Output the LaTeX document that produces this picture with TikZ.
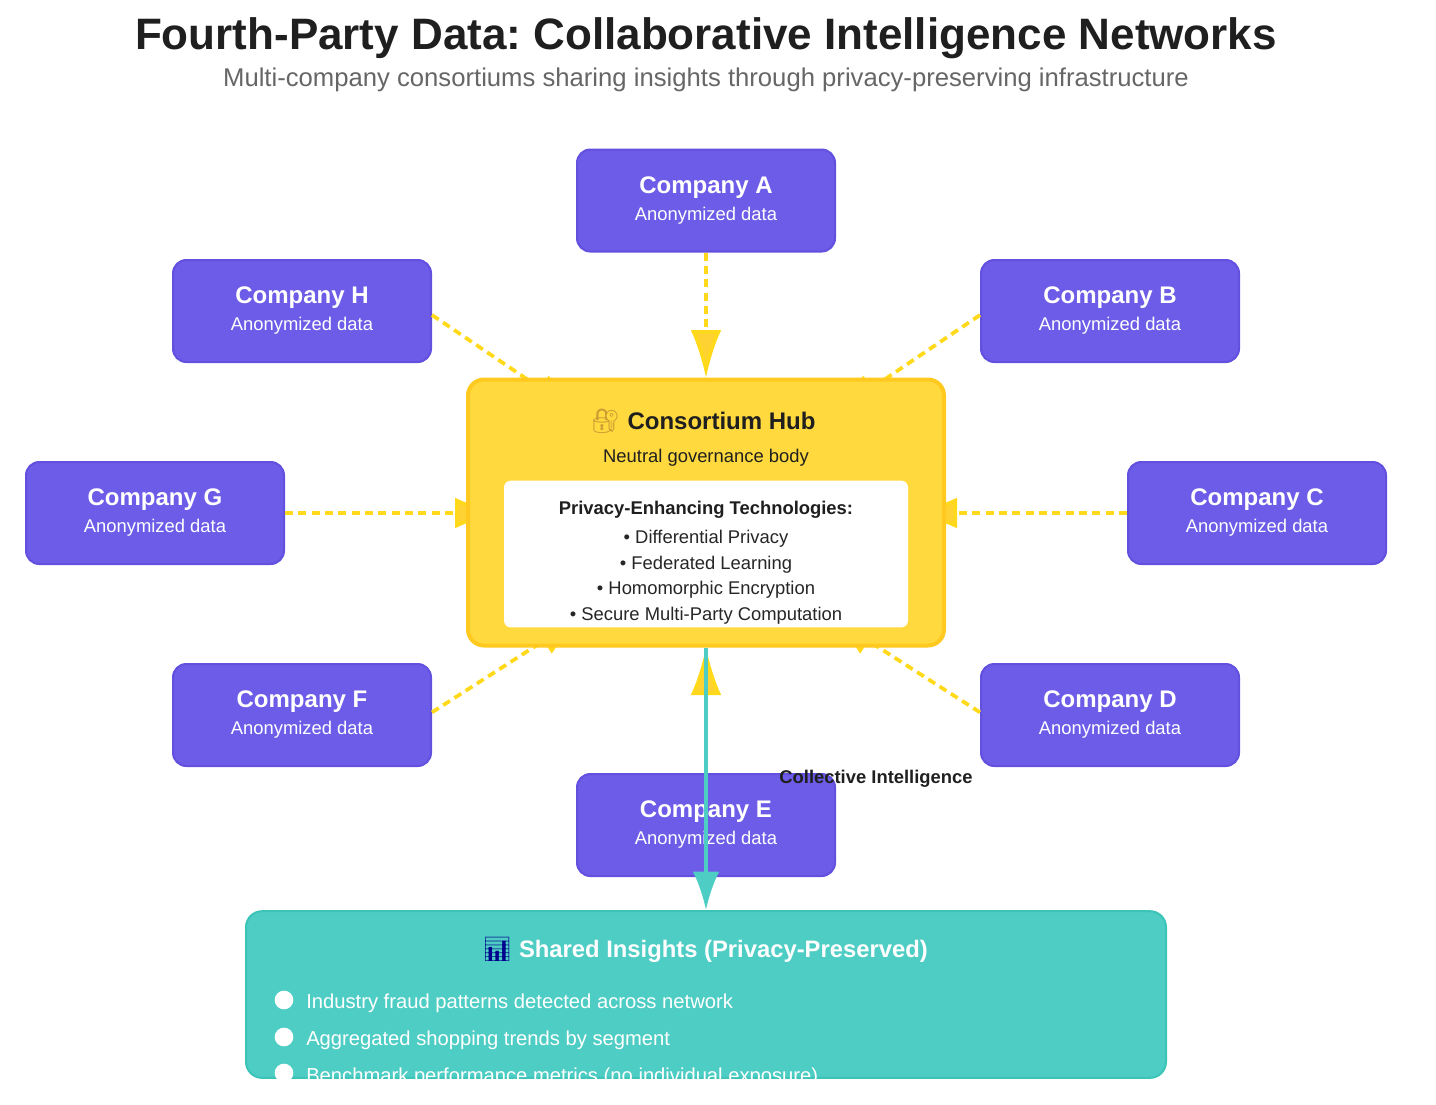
\documentclass[tikz,border=0pt]{standalone}
\usepackage{fontspec}
\setmainfont{Liberation Sans}
\newfontfamily\emojifont{Noto Emoji}
\usepackage{tikz}
\usetikzlibrary{arrows.meta,positioning,calc}
\definecolor{companyfill}{HTML}{6C5CE7}
\definecolor{companyedge}{HTML}{6250DE}
\definecolor{hubfill}{HTML}{FFD93D}
\definecolor{hubedge}{HTML}{FFC91F}
\definecolor{dashyellow}{HTML}{FFD91A}
\definecolor{tipyellow}{HTML}{FFD233}
\definecolor{tealfill}{HTML}{4ECDC4}
\definecolor{tealedge}{HTML}{3CC4B8}
\newcommand{\companytext}[1]{{\fontsize{18}{21}\selectfont\bfseries Company #1}\\[5.5pt]{\fontsize{13.8}{16}\selectfont Anonymized data}}
\frenchspacing

\begin{document}
\begin{tikzpicture}[
    x=0.75pt, y=-0.75pt,
    company/.style={draw=companyedge, line width=1.5pt, rounded corners=10pt, fill=companyfill, text=white, minimum width=193.5pt, minimum height=76.5pt, align=center, inner sep=0pt},
    hub/.style={draw=hubedge, line width=3pt, rounded corners=12pt, fill=hubfill, minimum width=357pt, minimum height=199.5pt, inner sep=0pt},
    pets/.style={fill=white, rounded corners=5pt, minimum width=303pt, minimum height=110pt, inner sep=0pt},
    panel/.style={draw=tealedge, line width=1.5pt, rounded corners=12pt, fill=tealfill, minimum width=690pt, minimum height=125pt, inner sep=0pt},
    share/.style={-{Latex[length=36pt, width=23pt, fill=tipyellow]}, draw=dashyellow, line width=2.8pt, dash pattern=on 6pt off 4pt},
    output/.style={-{Latex[length=29pt, width=20pt]}, draw=tealfill, line width=3pt},
    plain/.style={inner sep=0pt, font=\fontsize{13.8}{16}\selectfont},
    bullet/.style={circle, fill=white, minimum size=14pt, inner sep=0pt},
    insight/.style={inner sep=0pt, anchor=west, text=white, font=\fontsize{15.15}{18}\selectfont}
  ]
    \useasboundingbox (0,0) rectangle (1436,1104);

    % title
    \node[font=\fontsize{33}{38}\selectfont\bfseries, text=black!88, inner sep=0pt] (title) at (706,38) {Fourth-Party Data: Collaborative Intelligence Networks};
    \node[font=\fontsize{19.25}{23}\selectfont, text=black!60, inner sep=0pt] (subtitle) at (706,80) {Multi-company consortiums sharing insights through privacy-preserving infrastructure};

    % companies
    \node[company] (compA) at (706,200.5) {\companytext{A}};
    \node[company] (compB) at (1110,311) {\companytext{B}};
    \node[company] (compC) at (1257,513) {\companytext{C}};
    \node[company] (compD) at (1110,715) {\companytext{D}};
    \node[company] (compE) at (706,825) {\companytext{E}};
    \node[company] (compF) at (302,715) {\companytext{F}};
    \node[company] (compG) at (155,513) {\companytext{G}};
    \node[company] (compH) at (302,311) {\companytext{H}};

    % hidden arrow ends behind the hub
    \coordinate (tipB) at (832,415);
    \coordinate (tipC) at (909,513);
    \coordinate (tipD) at (828,615);
    \coordinate (tipF) at (584,615);
    \coordinate (tipG) at (503,513);
    \coordinate (tipH) at (580,415);

    \draw[share] (compA.south) -- (706,378);
    \draw[share] ([yshift=-3pt]compB.west) -- (tipB);
    \draw[share] (compC.west) -- (tipC);
    \draw[share] ([yshift=2pt]compD.west) -- (tipD);
    \draw[share] (compE.north) -- (706,647);
    \draw[share] ([yshift=2pt]compF.east) -- (tipF);
    \draw[share] (compG.east) -- (tipG);
    \draw[share] ([yshift=-3pt]compH.east) -- (tipH);

    % hub
    \node[hub] (hub) at (706,512.5) {};
    \node[font=\fontsize{18}{21}\selectfont\bfseries, text=black!88, inner sep=0pt] (hubtitle) at (703,421) {{\emojifont\color{brown!80!yellow}🔐}\ Consortium Hub};
    \node[plain, text=black!88] (hubsub) at (706,458) {Neutral governance body};
    \node[pets] (pets) at (706,554) {};
    \node[plain, font=\fontsize{13.8}{16}\selectfont\bfseries, text=black!88] (petshead) at (706,510) {Privacy-Enhancing Technologies:};
    \node[plain, text=black!85] (pet1) at (706,539) {• Differential Privacy};
    \node[plain, text=black!85] (pet2) at (706,565) {• Federated Learning};
    \node[plain, text=black!85] (pet3) at (706,590) {• Homomorphic Encryption};
    \node[plain, text=black!85] (pet4) at (706,616) {• Secure Multi-Party Computation};

    % insights
    \node[panel] (insights) at (706,994.5) {};
    \draw[output] (hub.south) -- (insights.north);
    \node[plain, font=\fontsize{13.8}{16}\selectfont\bfseries, text=black!88] (outlabel) at (876,779) {Collective Intelligence};
    \node[text=white, inner sep=0pt, font=\fontsize{17.85}{21}\selectfont\bfseries] (insighthead) at (705,950) {{\emojifont\color{blue!55!black}📊}\ Shared Insights (Privacy-Preserved)};
    \begin{scope}
      \clip (246,900) rectangle (1166,1078);
      \node[bullet] (dot1) at (284,1000) {};
      \node[bullet] (dot2) at (284,1037) {};
      \node[bullet] (dot3) at (284,1073) {};
      \node[insight] (ins1) at (306,1003) {Industry fraud patterns detected across network};
      \node[insight] (ins2) at (306,1040) {Aggregated shopping trends by segment};
      \node[insight] (ins3) at (306,1077) {Benchmark performance metrics (no individual exposure)};
    \end{scope}
  \end{tikzpicture}
\end{document}
